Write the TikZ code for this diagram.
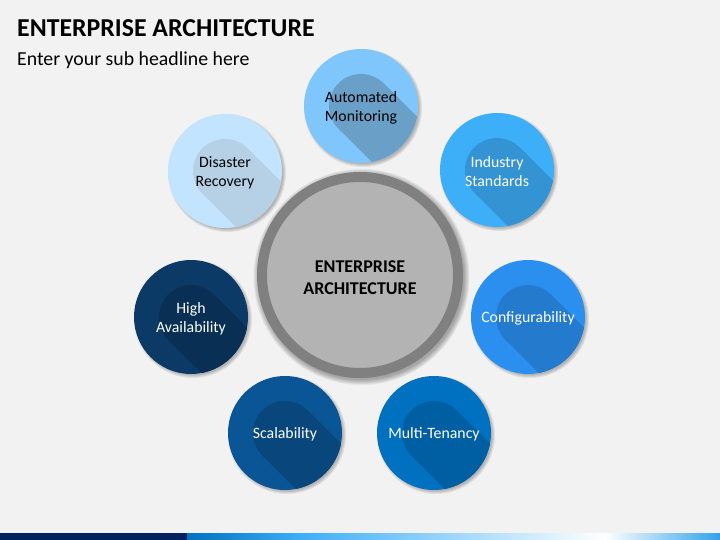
\documentclass[tikz,border=0pt]{standalone}
\usepackage{fontspec}
\setmainfont{Carlito}
\usetikzlibrary{calc}
\definecolor{bg}{HTML}{F2F2F2}
\definecolor{cDR}{HTML}{C3E4FF}
\definecolor{cAM}{HTML}{7EC6FC}
\definecolor{cIS}{HTML}{3DAEF8}
\definecolor{cCF}{HTML}{2B8FF0}
\definecolor{cMT}{HTML}{0070C0}
\definecolor{cSC}{HTML}{0A5596}
\definecolor{cHA}{HTML}{0B3A66}
\definecolor{ring}{HTML}{808080}
\definecolor{core}{HTML}{B3B3B3}
\definecolor{navy}{HTML}{002060}
\tikzset{
  bubble/.style={circle, minimum size=114pt, inner sep=0pt},
  lbl/.style={font=\fontsize{15.8}{19}\selectfont, align=center},
}
\newcommand{\softshadow}[2]{%
  \foreach \k in {0,1,2,3} {
    \fill[black, opacity=0.07] ($(#1)+(2,2)$) circle ({#2+2-\k});
  }}
\newcommand{\longshadow}[2]{%
  \begin{scope}
    \clip (#1) circle (57);
    \fill[#2] (#1) circle (32);
    \fill[#2] ($(#1)+(22.63,-22.63)$) -- ++(70.7,70.7) -- ++(-45.25,45.25) -- ++(-70.7,-70.7) -- cycle;
  \end{scope}}
\begin{document}
\begin{tikzpicture}[x=1pt,y=-1pt]
\fill[bg] (0,0) rectangle (720,540);
\useasboundingbox (0,0) rectangle (720,540);
% title
\node[anchor=base west, inner sep=0pt, font=\fontsize{25.8}{30}\selectfont\bfseries] (title) at (17,37) {ENTERPRISE ARCHITECTURE};
\node[anchor=base west, inner sep=0pt, font=\fontsize{19.8}{23}\selectfont] (sub) at (17,66) {Enter your sub headline here};
% shadows
\coordinate (pcore) at (360,275);
\coordinate (pdr) at (225,171);
\coordinate (pam) at (361,106);
\coordinate (pis) at (497,170);
\coordinate (pcf) at (528,317);
\coordinate (pmt) at (434,433);
\coordinate (psc) at (285,433);
\coordinate (pha) at (191,317);
\foreach \k in {0,1,2,3,4,5} {
  \fill[black, opacity=0.06] ($(pcore)+(1.5,2)$) circle ({108-\k});
}
\foreach \p in {pdr,pam,pis,pcf,pmt,psc,pha} {
  \softshadow{\p}{57}
}
% centre
\node[circle, minimum size=196pt, inner sep=0pt, fill=core, draw=ring, line width=10pt] (core) at (pcore) {};
\node[font=\fontsize{18}{22}\selectfont\bfseries, align=center] (coretxt) at (360,278) {ENTERPRISE\\ARCHITECTURE};
% bubbles
\node[bubble, fill=cDR] (dr) at (pdr) {};
\node[bubble, fill=cAM] (am) at (pam) {};
\node[bubble, fill=cIS] (is) at (pis) {};
\node[bubble, fill=cCF] (cf) at (pcf) {};
\node[bubble, fill=cMT] (mt) at (pmt) {};
\node[bubble, fill=cSC] (sc) at (psc) {};
\node[bubble, fill=cHA] (ha) at (pha) {};
\longshadow{dr}{cDR!80!gray}
\longshadow{am}{cAM!82!black!90!gray}
\longshadow{is}{cIS!85!black}
\longshadow{cf}{cCF!85!black}
\longshadow{mt}{cMT!85!black}
\longshadow{sc}{cSC!82!black}
\longshadow{ha}{cHA!82!black}
\node[lbl, text=black] (tdr) at ($(dr)+(0,1.5)$) {Disaster\\Recovery};
\node[lbl, text=black] (tam) at ($(am)+(0,1.5)$) {Automated\\Monitoring};
\node[lbl, text=white] (tis) at ($(is)+(0,1.5)$) {Industry\\Standards};
\node[lbl, text=white] (tcf) at ($(cf)+(0,1.5)$) {Configurability};
\node[lbl, text=white] (tmt) at ($(mt)+(0,1.5)$) {Multi-Tenancy};
\node[lbl, text=white] (tsc) at ($(sc)+(0,1.5)$) {Scalability};
\node[lbl, text=white] (tha) at ($(ha)+(0,1.5)$) {High\\Availability};
% bottom bar
\fill[navy] (0,533) rectangle (187,540);
\shade[left color=cMT, right color=cIS] (187,533) rectangle (300,540);
\shade[left color=cIS, right color=white] (300,533) rectangle (605,540);
\shade[left color=white, right color=cIS!80!cMT] (605,533) rectangle (720,540);
\end{tikzpicture}
\end{document}
